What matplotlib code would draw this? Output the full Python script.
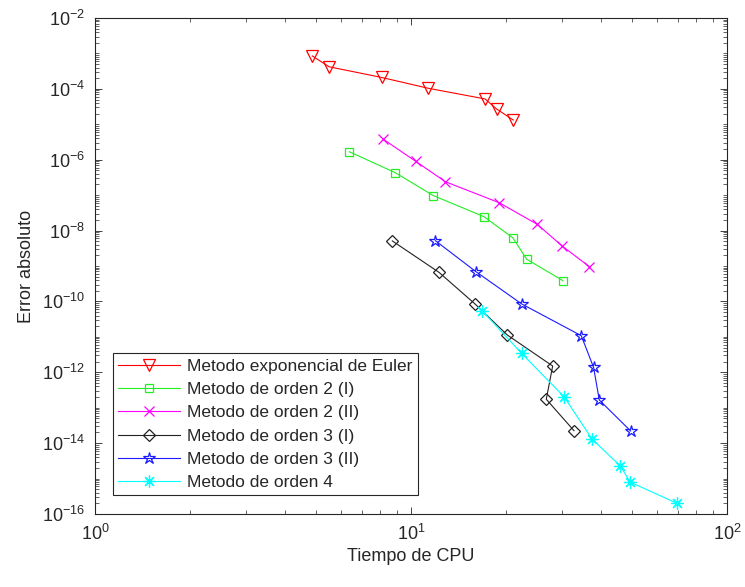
import numpy as np
import matplotlib
matplotlib.use("Agg")
import matplotlib.pyplot as plt
from matplotlib.ticker import LogLocator, NullFormatter

plt.rcParams['font.family'] = ['Liberation Sans', 'DejaVu Sans']
plt.rcParams['mathtext.fontset'] = 'custom'
plt.rcParams['mathtext.rm'] = 'Liberation Sans'
plt.rcParams['mathtext.it'] = 'Liberation Sans'

# data (CPU time, absolute error)
t_euler = [4.87, 5.51, 8.08, 11.34, 17.15, 18.67, 21.07]
e_euler = [8.5e-4, 4.2e-4, 2.1e-4, 1.04e-4, 5.2e-5, 2.7e-5, 1.32e-5]

t_o2a = [6.38, 8.92, 11.77, 17.02, 21.03, 23.24, 30.27]
e_o2a = [1.68e-6, 4.3e-7, 9.7e-8, 2.47e-8, 6.2e-9, 1.55e-9, 3.85e-10]

t_o2b = [8.17, 10.35, 12.84, 19.03, 25.10, 30.05, 36.67]
e_o2b = [3.8e-6, 9.0e-7, 2.4e-7, 6.1e-8, 1.5e-8, 3.7e-9, 9.6e-10]

t_o3a = [8.73, 12.27, 15.94, 20.17, 28.08, 26.8, 32.8]
e_o3a = [5.1e-9, 6.6e-10, 8.5e-11, 1.13e-11, 1.5e-12, 1.73e-13, 2.25e-14]

t_o3b = [11.94, 16.06, 22.40, 34.58, 37.83, 39.44, 49.57]
e_o3b = [5.2e-9, 6.9e-10, 8.5e-11, 1.08e-11, 1.38e-12, 1.65e-13, 2.2e-14]

t_o4 = [16.81, 22.40, 30.49, 37.39, 45.96, 49.43, 69.47]
e_o4 = [5.4e-11, 3.4e-12, 2.05e-13, 1.31e-14, 2.27e-15, 7.9e-16, 2.0e-16]

labels = ['Metodo exponencial de Euler', 'Metodo de orden 2 (I)',
          'Metodo de orden 2 (II)', 'Metodo de orden 3 (I)',
          'Metodo de orden 3 (II)', 'Metodo de orden 4']

fig = plt.figure(figsize=(7.45, 5.87), dpi=100)
ax = fig.add_axes([0.1275, 0.1244, 0.8483, 0.8449])

lw = 0.8
ax.loglog(t_euler, e_euler, color='#ff0000', lw=lw, marker='v', ms=9, mfc='none', mew=0.9, label=labels[0])
ax.loglog(t_o2a, e_o2a, color='#22ee22', lw=lw, marker='s', ms=6, mfc='none', mew=0.9, label=labels[1])
ax.loglog(t_o2b, e_o2b, color='#ff00ff', lw=lw, marker='x', ms=7, mew=0.9, label=labels[2])
ax.loglog(t_o3a, e_o3a, color='#222222', lw=lw, marker='D', ms=6.5, mfc='none', mew=0.9, label=labels[3])
ax.loglog(t_o3b, e_o3b, color='#1a1aff', lw=lw, marker='*', ms=9, mfc='none', mew=0.9, label=labels[4])
ax.loglog(t_o4, e_o4, color='#00ffff', lw=lw, marker=(8, 2, 0), ms=9, mew=0.9, label=labels[5])

ax.set_xlim(1, 100)
ax.set_ylim(1e-16, 1e-2)
ax.set_yticks([10.0 ** k for k in range(-16, -1, 2)])
ax.yaxis.set_minor_locator(LogLocator(base=10, subs=np.arange(1, 10), numticks=30))
ax.yaxis.set_minor_formatter(NullFormatter())
ax.xaxis.set_minor_locator(LogLocator(base=10, subs=np.arange(2, 10), numticks=30))
ax.xaxis.set_minor_formatter(NullFormatter())

gray = '#262626'
for s in ax.spines.values():
    s.set_color(gray)
    s.set_linewidth(0.8)
ax.tick_params(which='both', direction='in', top=True, right=True, colors=gray, labelsize=13)
ax.tick_params(which='major', length=5, width=0.6, pad=7)
ax.tick_params(which='minor', length=3, width=0.5)

ax.set_xlabel('Tiempo de CPU', fontsize=13, color=gray, labelpad=3)
ax.set_ylabel('Error absoluto', fontsize=13, color=gray, labelpad=5)

leg = ax.legend(loc='upper left', bbox_to_anchor=(0.028, 0.324), borderaxespad=0,
                fontsize=12.5, fancybox=False, framealpha=1, edgecolor=gray,
                handlelength=3.6, handletextpad=0.4, labelspacing=0.47, borderpad=0.3)
leg.get_frame().set_linewidth(0.8)
for txt in leg.get_texts():
    txt.set_color(gray)

fig.savefig('out.png', dpi=100)
